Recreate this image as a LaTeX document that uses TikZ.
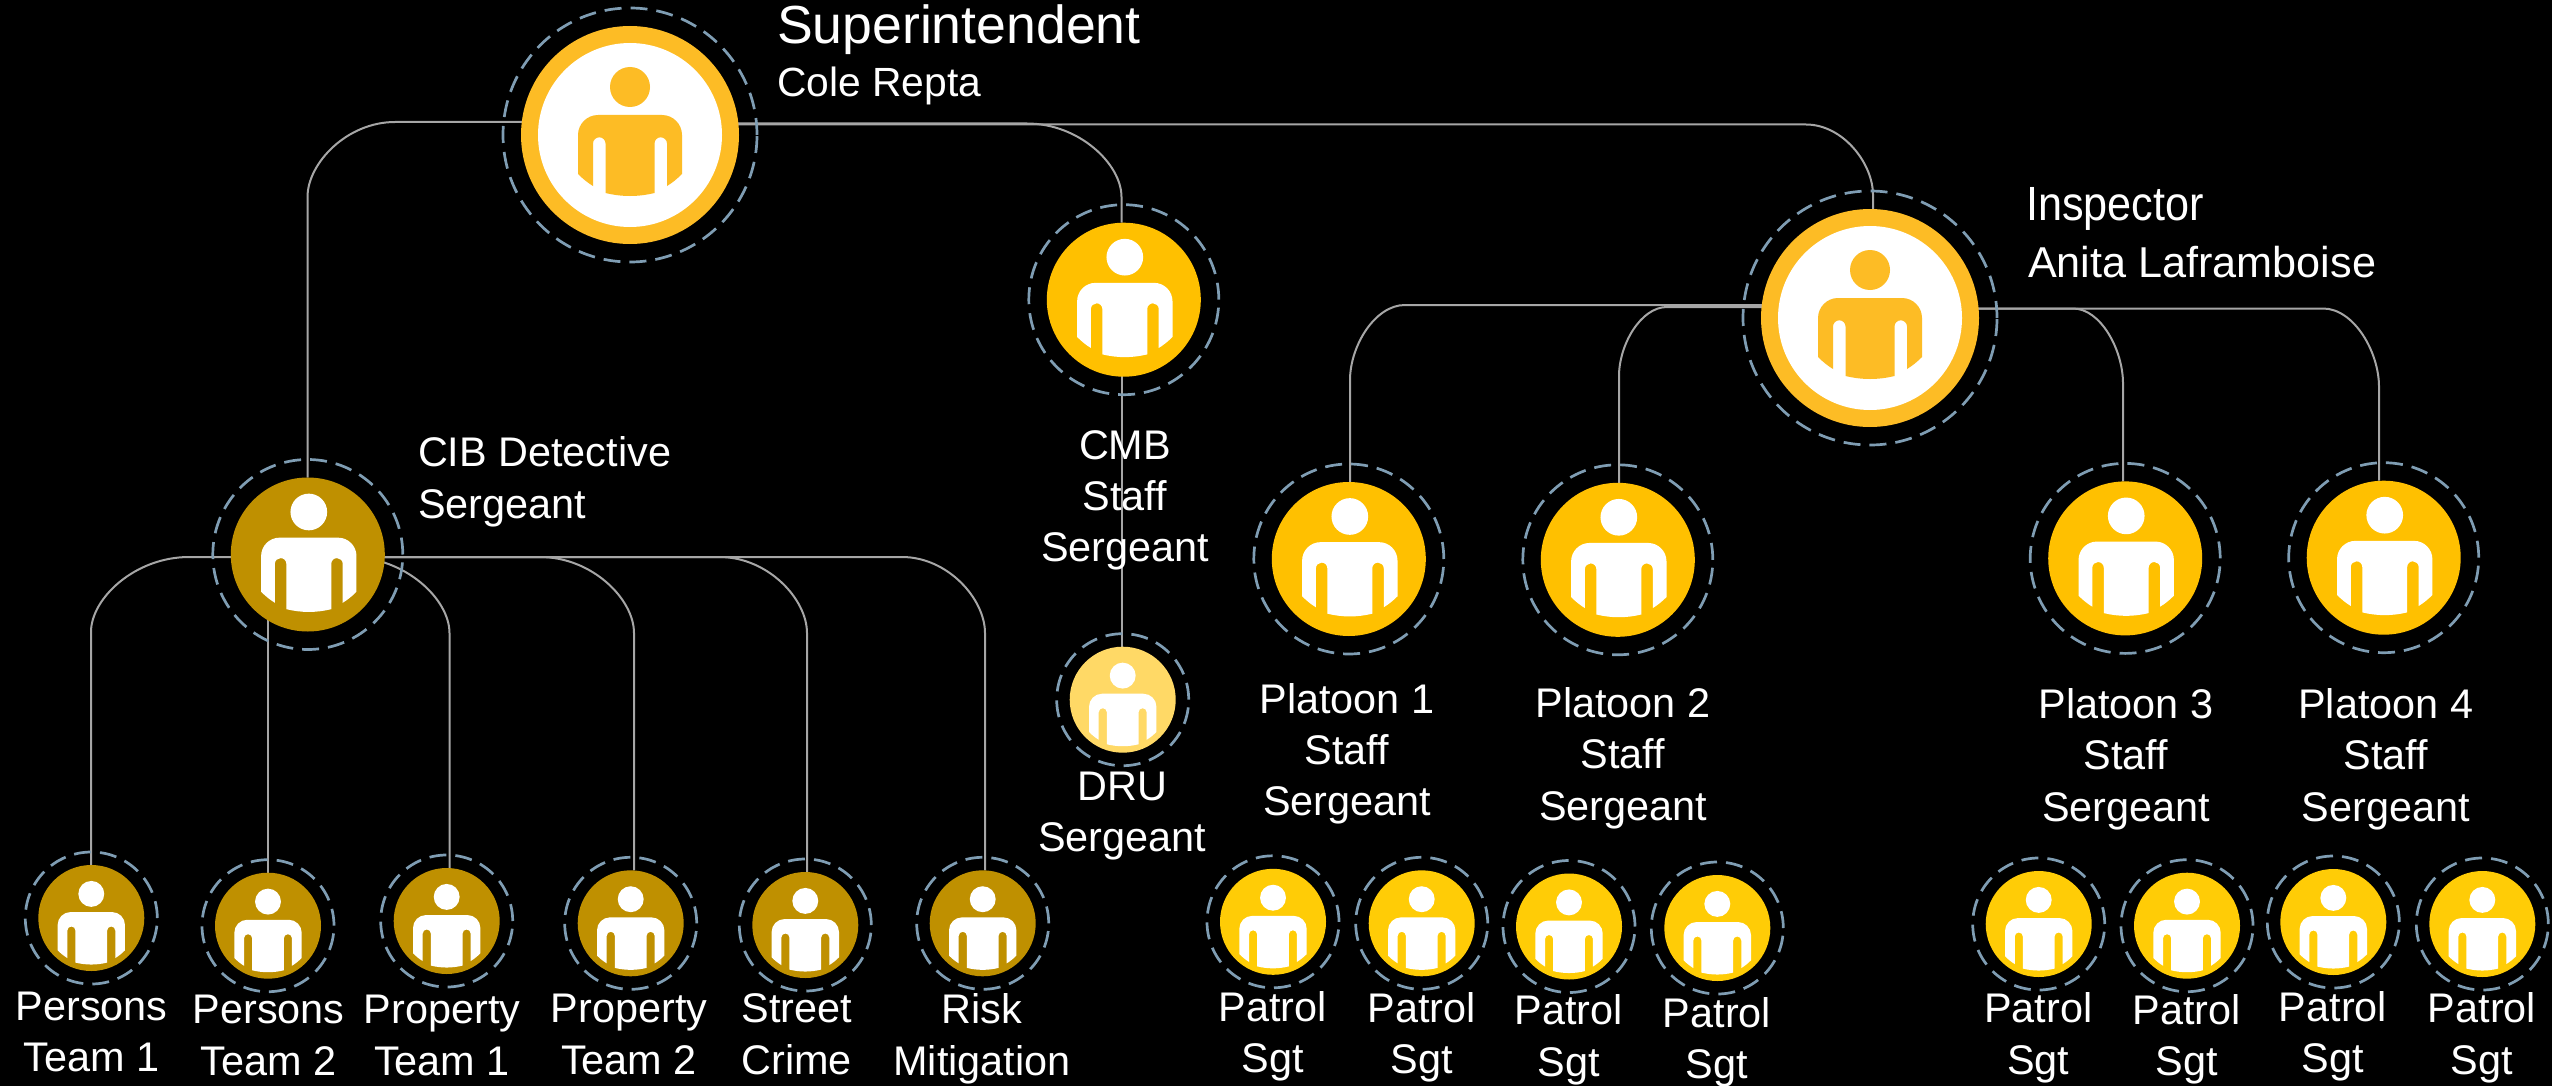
\documentclass[tikz,border=0pt]{standalone}
\usepackage{fontspec}
\setmainfont{Liberation Sans}
\definecolor{ringblue}{HTML}{7F9DB3}
\definecolor{linegrey}{HTML}{A6A6A6}
\definecolor{bigring}{HTML}{FDBC25}
\definecolor{gold}{HTML}{BF9000}
\definecolor{amber}{HTML}{FFC000}
\definecolor{patrol}{HTML}{FFCC06}
\definecolor{pale}{HTML}{FFD966}
\pgfdeclarelayer{bg}
\pgfdeclarelayer{links}
\pgfsetlayers{bg,links,main}
\tikzset{
  disc/.style={circle,inner sep=0pt,outer sep=0pt,minimum size=#1},
  dashring/.style={circle,inner sep=0pt,outer sep=0pt,minimum size=#1,draw=ringblue,line width=1.35pt,dash pattern=on 8.5pt off 4.5pt},
  conn/.style={draw=linegrey,line width=1pt},
  lbl/.style={text=white,inner sep=0pt,outer sep=0pt,anchor=base,align=center,font=\fontsize{20.7}{25.6}\selectfont},
  lbll/.style={text=white,inner sep=0pt,outer sep=0pt,anchor=base west,align=left,font=\fontsize{#1}{25.8}\selectfont},
}
\newcommand\iconshape[1]{%
  \fill[#1] (0,-48) circle[radius=20];
  \fill[#1] (-52,39) -- (-52,0) .. controls (-52,-11) and (-43,-20) .. (-32,-20)
    -- (32,-20) .. controls (43,-20) and (52,-11) .. (52,0) -- (52,39)
    .. controls (47,44) and (42,48) .. (37,51) -- (37,8.5)
    .. controls (37,5) and (34,2.3) .. (30.75,2.3)
    .. controls (27.3,2.3) and (24.5,5) .. (24.5,8.5) -- (24.5,58)
    .. controls (8,62) and (-8,62) .. (-24.5,58) -- (-24.5,8.5)
    .. controls (-24.5,5) and (-27.3,2.3) .. (-30.75,2.3)
    .. controls (-34,2.3) and (-37,5) .. (-37,8.5) -- (-37,51)
    .. controls (-42,48) and (-47,44) .. (-52,39) -- cycle;
}
\newcommand\smallp[4]{%
  \node[disc=53pt,fill=#4] (#1) at (#2,#3) {};
  \node[dashring=66pt] (#1-ring) at (#2,#3) {};
  \begin{scope}[shift={(#2,#3+7)},scale=.648]\iconshape{white}\end{scope}
}
\newcommand\midp[4]{%
  \node[disc=77pt,fill=#4] (#1) at (#2,#3) {};
  \node[dashring=95pt] (#1-ring) at (#2,#3) {};
  \begin{scope}[shift={(#2+1,#3+1.5)},scale=.917]\iconshape{white}\end{scope}
}
\newcommand\bigp[3]{%
  \node[disc=109pt,fill=bigring] (#1) at (#2,#3) {};
  \node[disc=92pt,fill=white] (#1-inner) at (#2,#3) {};
  \node[dashring=127pt] (#1-ring) at (#2,#3) {};
  \begin{scope}[shift={(#2,#3)}]\iconshape{bigring}\end{scope}
}
\newcommand\elbow[6]{%
  \draw[conn] (#1 |- 0,#2) -- (#3,#2)
    .. controls ({#3+.55*(#4-#3)},#2) and (#4,{#2+.55*(#5-#2)}) .. (#4,#5)
    -- (#4,0 |- #6);
}
\begin{document}
\begin{tikzpicture}[x=.5pt,y=-.5pt]
\useasboundingbox (0,0) rectangle (2552,1086);
\begin{pgfonlayer}{bg}
\fill[black] (0,0) rectangle (2552,1086);
\end{pgfonlayer}

\bigp{sup}{630}{135}
\bigp{ins}{1870}{318}
\midp{cmb}{1123.8}{299.7}{amber}
\midp{cib}{307.8}{554.5}{gold}
\midp{pl1}{1348.8}{559}{amber}
\midp{pl2}{1617.8}{559.8}{amber}
\midp{pl3}{2125.2}{558.4}{amber}
\midp{pl4}{2383.7}{557.7}{amber}
\smallp{dru}{1122.7}{699.7}{pale}
\smallp{t1}{91.3}{918}{gold}
\smallp{t2}{268}{925.7}{gold}
\smallp{t3}{446.7}{921}{gold}
\smallp{t4}{630.7}{923.3}{gold}
\smallp{t5}{805.3}{925}{gold}
\smallp{t6}{982.7}{923.3}{gold}
\smallp{s1}{1273}{921.8}{patrol}
\smallp{s2}{1421.7}{923.3}{patrol}
\smallp{s3}{1569}{926.5}{patrol}
\smallp{s4}{1717.3}{928}{patrol}
\smallp{s5}{2038.7}{924}{patrol}
\smallp{s6}{2187}{925.7}{patrol}
\smallp{s7}{2333.3}{922}{patrol}
\smallp{s8}{2482.3}{924}{patrol}

\begin{pgfonlayer}{links}
\elbow{sup}{122}{395}{307.5}{197}{cib.north}
\elbow{sup}{123.5}{1027}{1121.5}{197}{cmb.north}
\elbow{sup}{124.5}{1806}{1873}{195}{ins.north}
\elbow{ins}{305}{1405}{1350}{380}{pl1.north}
\elbow{ins}{307}{1667}{1619}{376}{pl2.north}
\elbow{ins}{308.5}{2073}{2123}{383.5}{pl3.north}
\elbow{ins}{308.5}{2323}{2379}{387}{pl4.north}
\elbow{cib}{557}{189}{91}{632}{t1.north}
\draw[conn] (268,0 |- cib.center) -- (268,0 |- t2.north);
\elbow{cib}{557}{350}{449.5}{633}{t3.north}
\elbow{cib}{557}{540}{634}{633}{t4.north}
\elbow{cib}{557}{719.5}{807}{633}{t5.north}
\elbow{cib}{557}{902}{985}{633}{t6.north}
\draw[conn] (1122,0 |- cmb.center) -- (1122,0 |- dru.north);
\end{pgfonlayer}

\node[lbll=26.8] (lsup) at (777,43.3) {Superintendent};
\node[lbll=20.4] (lcole) at (777,96.7) {Cole Repta};
\node[lbll=24,xscale=.9,transform shape] (lins) at (2026,220) {Inspector};
\node[lbll=21.6] (lanita) at (2028,277) {Anita Laframboise};
\node[lbll=20.7] (lcib) at (418,518.3) {CIB Detective\\Sergeant};
\node[lbl] (lcmb) at (1125,561.7) {CMB\\Staff\\Sergeant};
\node[lbl] (ldru) at (1122.3,851.7) {DRU\\Sergeant};
\node[lbl] (lpl1) at (1347,815.7) {Platoon 1\\Staff\\Sergeant};
\node[lbl] (lpl2) at (1623,820) {Platoon 2\\Staff\\Sergeant};
\node[lbl] (lpl3) at (2126,821) {Platoon 3\\Staff\\Sergeant};
\node[lbl] (lpl4) at (2385.7,821) {Platoon 4\\Staff\\Sergeant};
\node[lbl] (lt1) at (91.7,1071.7) {Persons\\Team 1};
\node[lbl] (lt2) at (268.7,1075) {Persons\\Team 2};
\node[lbl] (lt3) at (442,1075) {Property\\Team 1};
\node[lbl] (lt4) at (629,1074) {Property\\Team 2};
\node[lbl] (lt5) at (796.7,1074) {Street\\Crime};
\node[lbl] (lt6) at (982,1075) {Risk\\Mitigation};
\node[lbl] (ls1) at (1272.5,1072.7) {Patrol\\Sgt};
\node[lbl] (ls2) at (1421.7,1073.3) {Patrol\\Sgt};
\node[lbl] (ls3) at (1568.7,1076) {Patrol\\Sgt};
\node[lbl] (ls4) at (1717,1078.7) {Patrol\\Sgt};
\node[lbl] (ls5) at (2038.3,1074) {Patrol\\Sgt};
\node[lbl] (ls6) at (2186.7,1075.3) {Patrol\\Sgt};
\node[lbl] (ls7) at (2333,1072.3) {Patrol\\Sgt};
\node[lbl] (ls8) at (2482,1074) {Patrol\\Sgt};
\end{tikzpicture}
\end{document}
